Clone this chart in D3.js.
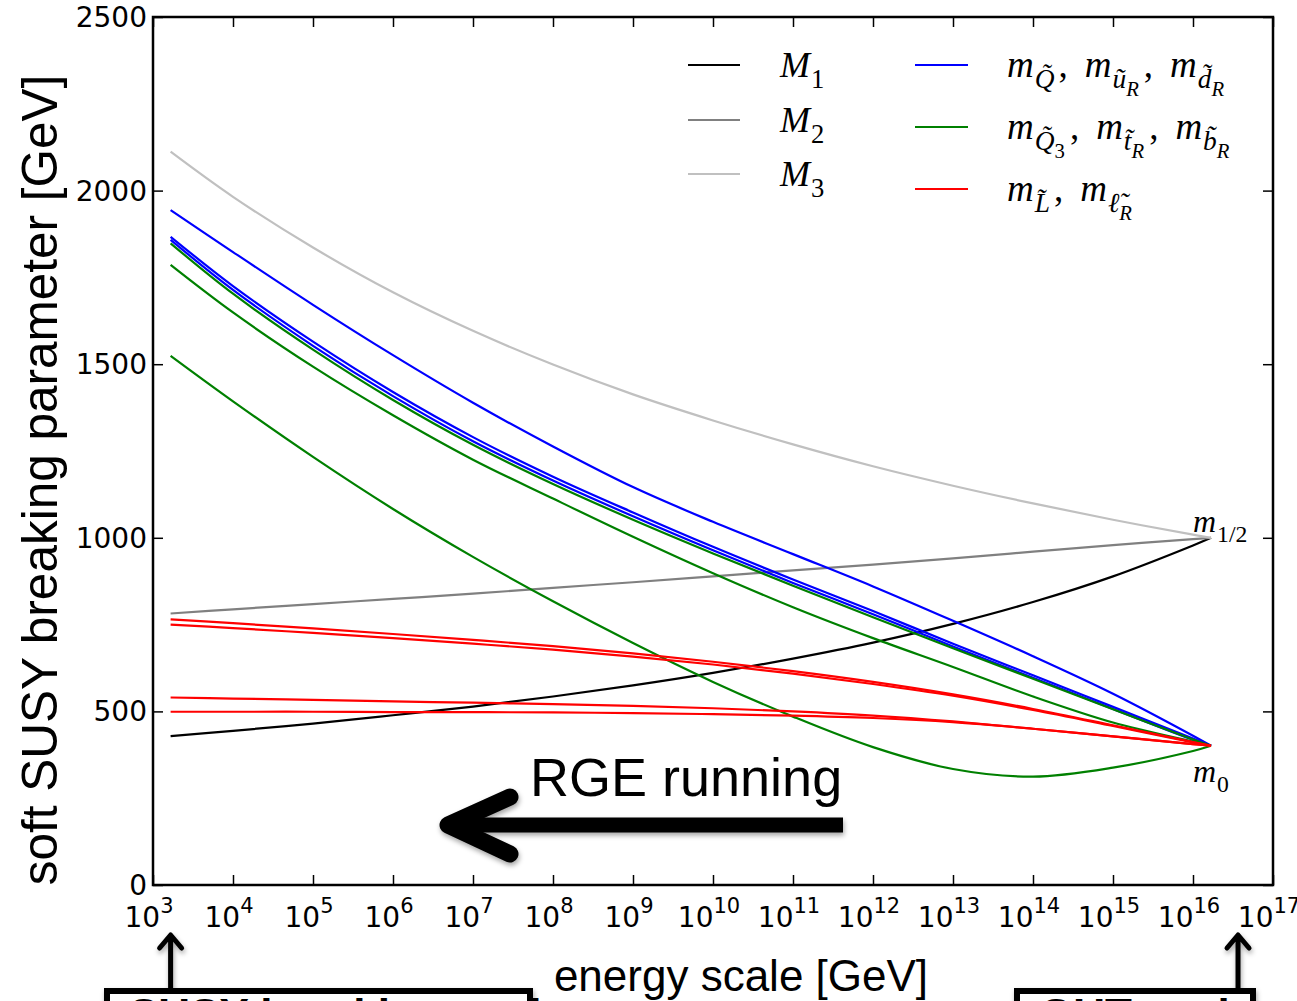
<!DOCTYPE html>
<html lang="en">
<head>
<meta charset="UTF-8" />
<script src="https://d3js.org/d3.v7.min.js"></script>
<title>Soft SUSY breaking parameters - RGE running</title>
<style>
  body { margin: 0; background: #fff; overflow: hidden; }
  svg { display: block; }
</style>
</head>
<body>
<div id="chart"></div>
<script>
  // energy scale of every sampled point (GeV)
  const energy = [1.66e3, 1e4, 1e5, 1e6, 1e7, 1e8, 1e9, 1e10, 1e11, 1e12, 1e13, 1e14, 1e15, 1e16, 1.68e16];

  // gaugino masses
  const M1 = [429, 444, 465, 489, 514, 543, 575, 611, 652, 698, 752, 815, 889, 978, 1000];
  const M2 = [782, 794, 809, 824, 839, 856, 872, 889, 906, 923, 941, 960, 979, 996, 1000];
  const M3 = [2112, 1982, 1836, 1707, 1596, 1499, 1413, 1338, 1269, 1206, 1150, 1099, 1052, 1009, 1000];

  // first / second generation squarks
  const mQ  = [1944, 1823, 1671, 1526, 1389, 1263, 1146, 1046, 953, 860, 761, 659, 551, 430, 401];
  const muR = [1867, 1725, 1565, 1420, 1290, 1176, 1073, 974, 880, 789, 695, 604, 513, 422, 401];
  const mdR = [1858, 1714, 1553, 1408, 1278, 1165, 1062, 964, 870, 780, 687, 597, 507, 418, 401];

  // third generation squarks
  const mbR = [1848, 1703, 1542, 1397, 1268, 1155, 1052, 955, 862, 771, 682, 594, 506, 419, 401];
  const mQ3 = [1786, 1649, 1493, 1353, 1225, 1113, 1003, 898, 800, 711, 628, 543, 468, 413, 401];
  const mtR = [1524, 1393, 1233, 1083, 945, 817, 697, 585, 485, 397, 334, 312, 338, 386, 401];

  // sleptons
  const mL    = [765, 754, 739, 723, 706, 688, 667, 643, 616, 585, 549, 507, 460, 412, 401];
  const mL3   = [750, 740, 726, 711, 695, 678, 658, 635, 609, 579, 545, 504, 458, 411, 401];
  const meR   = [540, 537, 533, 529, 525, 521, 516, 509, 500, 488, 471, 450, 428, 406, 401];
  const mtauR = [499, 499, 499, 498, 498, 497, 495, 492, 488, 481, 469, 450, 428, 406, 401];

  const xTicks = [1e3, 1e4, 1e5, 1e6, 1e7, 1e8, 1e9, 1e10, 1e11, 1e12, 1e13, 1e14, 1e15, 1e16, 1e17];
  const yTicks = [0, 500, 1000, 1500, 2000, 2500];

  const series = [
    { values: M1, color: "#000000" },
    { values: M2, color: "#808080" },
    { values: M3, color: "#c0c0c0" },
    { values: mQ, color: "#0000ff" },
    { values: muR, color: "#0000ff" },
    { values: mdR, color: "#0000ff" },
    { values: mbR, color: "#008000" },
    { values: mQ3, color: "#008000" },
    { values: mtR, color: "#008000" },
    { values: mL, color: "#ff0000" },
    { values: mL3, color: "#ff0000" },
    { values: meR, color: "#ff0000" },
    { values: mtauR, color: "#ff0000" }
  ];

  const width = 1297, height = 1001;
  const margin = { top: 17, right: 24, bottom: 116, left: 153 };
  const sans = "'DejaVu Sans', sans-serif";
  const helv = "'Liberation Sans', Arial, sans-serif";
  const serif = "'Liberation Serif', 'Times New Roman', serif";

  const svg = d3.select("#chart").append("svg")
    .attr("width", width)
    .attr("height", height);

  const defs = svg.append("defs");
  defs.append("filter").attr("id", "shadow")
    .attr("x", "-10%").attr("y", "-30%").attr("width", "130%").attr("height", "170%")
    .append("feDropShadow")
    .attr("dx", 1).attr("dy", 3).attr("stdDeviation", 2.5)
    .attr("flood-color", "#000").attr("flood-opacity", 0.35);

  const x = d3.scaleLog()
    .domain([1e3, 1e17])
    .range([margin.left, width - margin.right]);

  const y = d3.scaleLinear()
    .domain([0, 2500])
    .range([height - margin.bottom, margin.top]);

  const x0 = x.range()[0], x1 = x.range()[1];
  const y0 = y.range()[0], y1 = y.range()[1];

  // curves
  const line = d3.line()
    .x((d, i) => x(energy[i]))
    .y(d => y(d))
    .curve(d3.curveCatmullRom.alpha(0.5));

  svg.append("g").selectAll("path")
    .data(series)
    .enter()
    .append("path")
    .attr("fill", "none")
    .attr("stroke", d => d.color)
    .attr("stroke-width", 2.2)
    .attr("d", d => line(d.values));

  // axes, ticks pointing inwards
  svg.append("g")
    .attr("transform", `translate(0,${y0})`)
    .call(d3.axisBottom(x).tickValues(xTicks).tickSize(-10).tickSizeOuter(0).tickFormat(() => ""));
  svg.append("g")
    .attr("transform", `translate(0,${y1})`)
    .call(d3.axisTop(x).tickValues(xTicks).tickSize(-10).tickSizeOuter(0).tickFormat(() => ""));
  svg.append("g")
    .attr("transform", `translate(${x0},0)`)
    .call(d3.axisLeft(y).tickValues(yTicks).tickSize(-10).tickSizeOuter(0).tickFormat(() => ""));
  svg.append("g")
    .attr("transform", `translate(${x1},0)`)
    .call(d3.axisRight(y).tickValues(yTicks).tickSize(-10).tickSizeOuter(0).tickFormat(() => ""));

  svg.selectAll(".tick line").attr("stroke", "#000").attr("stroke-width", 1.5);
  svg.selectAll(".domain").remove();

  svg.append("rect")
    .attr("x", x0).attr("y", y1)
    .attr("width", x1 - x0).attr("height", y0 - y1)
    .attr("fill", "none")
    .attr("stroke", "#000")
    .attr("stroke-width", 2.5);

  // tick labels
  svg.append("g").selectAll("text")
    .data(yTicks)
    .enter()
    .append("text")
    .attr("x", x0 - 6)
    .attr("y", d => y(d))
    .attr("dy", "0.36em")
    .attr("text-anchor", "end")
    .attr("font-family", sans)
    .attr("font-size", 28)
    .text(d => d);

  const xl = svg.append("g").selectAll("text")
    .data(xTicks)
    .enter()
    .append("text")
    .attr("x", d => x(d) - 4)
    .attr("y", y0 + 42)
    .attr("text-anchor", "middle")
    .attr("font-family", sans)
    .attr("font-size", 28);
  xl.append("tspan").text("10");
  xl.append("tspan")
    .attr("dy", -14)
    .attr("font-size", 21)
    .text(d => Math.round(Math.log10(d)));

  // axis titles
  svg.append("text")
    .attr("transform", `translate(57,${(y0 + 75) / 2}) rotate(-90)`)
    .attr("text-anchor", "middle")
    .attr("font-family", helv)
    .attr("font-size", 49.5)
    .text("soft SUSY breaking parameter [GeV]");

  svg.append("text")
    .attr("x", 741)
    .attr("y", 991)
    .attr("text-anchor", "middle")
    .attr("font-family", helv)
    .attr("font-size", 44)
    .text("energy scale [GeV]");

  // math-style text: parts are [text, level, italic, dx]
  function mathText(g, px, py, size, parts) {
    const offs = [0, 0.3, 0.5];
    const sizes = [1, 0.74, 0.56];
    const t = g.append("text")
      .attr("x", px).attr("y", py)
      .attr("font-family", serif)
      .attr("font-size", size);
    let cur = 0;
    parts.forEach(p => {
      const lvl = p[1];
      const off = offs[lvl] * size;
      t.append("tspan")
        .attr("dy", off - cur)
        .attr("dx", p[3] || 0)
        .attr("font-size", size * sizes[lvl])
        .attr("font-style", p[2] ? "italic" : "normal")
        .text(p[0]);
      cur = off;
    });
    return t;
  }

  // legend
  const legend = svg.append("g");
  const legendLeft = [
    { color: "#000000", ly: 65, sub: "1" },
    { color: "#808080", ly: 120, sub: "2" },
    { color: "#c0c0c0", ly: 174, sub: "3" }
  ];
  legendLeft.forEach(d => {
    legend.append("line")
      .attr("x1", 688).attr("x2", 740)
      .attr("y1", d.ly).attr("y2", d.ly)
      .attr("stroke", d.color).attr("stroke-width", 2.2);
    mathText(legend, 780, d.ly + 12, 36, [["M", 0, true], [d.sub, 1, false, 1]]);
  });

  const tl = "\u0303";
  const legendRight = [
    { color: "#0000ff", ly: 65, parts: [["m", 0, true], ["Q" + tl, 1, true, 1], [",", 0, false, 4], ["m", 0, true, 17], ["u" + tl, 1, true, 1], ["R", 2, true], [",", 0, false, 5], ["m", 0, true, 17], ["d" + tl, 1, true, 1], ["R", 2, true]] },
    { color: "#008000", ly: 127, parts: [["m", 0, true], ["Q" + tl, 1, true, 1], ["3", 2, false], [",", 0, false, 5], ["m", 0, true, 17], ["t" + tl, 1, true, 1], ["R", 2, true], [",", 0, false, 5], ["m", 0, true, 17], ["b" + tl, 1, true, 1], ["R", 2, true]] },
    { color: "#ff0000", ly: 189, parts: [["m", 0, true], ["L" + tl, 1, true, 1], [",", 0, false, 4], ["m", 0, true, 17], ["\u2113" + tl, 1, true, 1], ["R", 2, true]] }
  ];
  legendRight.forEach(d => {
    legend.append("line")
      .attr("x1", 915).attr("x2", 968)
      .attr("y1", d.ly).attr("y2", d.ly)
      .attr("stroke", d.color).attr("stroke-width", 2.2);
    mathText(legend, 1007, d.ly + 12, 37, d.parts);
  });

  // boundary value labels
  mathText(svg, 1193, 532, 32, [["m", 0, true], ["1/2", 1, false, 1]]);
  mathText(svg, 1193, 782, 32, [["m", 0, true], ["0", 1, false, 1]]);

  // RGE running arrow
  const ann = svg.append("g").attr("filter", "url(#shadow)");
  ann.append("line")
    .attr("x1", 843).attr("x2", 455)
    .attr("y1", 825).attr("y2", 825)
    .attr("stroke", "#000").attr("stroke-width", 15);
  ann.append("path")
    .attr("d", "M510,797 L448,825 L510,854")
    .attr("fill", "none")
    .attr("stroke", "#000").attr("stroke-width", 17)
    .attr("stroke-linecap", "round")
    .attr("stroke-linejoin", "round");
  svg.append("text")
    .attr("x", 530).attr("y", 796)
    .attr("font-family", helv)
    .attr("font-size", 54)
    .text("RGE running");

  // scale boxes below the axis
  const boxes = [
    { ax: x(1.66e3), bx: 107, bw: 423, label: "SUSY breaking scale" },
    { ax: x(1.68e16) + 27, bx: 1017, bw: 236, label: "GUT scale" }
  ];
  boxes.forEach(b => {
    const g = svg.append("g").attr("filter", "url(#shadow)");
    g.append("path")
      .attr("d", `M${b.ax},990 L${b.ax},938 M${b.ax - 11},948 L${b.ax},935 L${b.ax + 11},948`)
      .attr("fill", "none")
      .attr("stroke", "#000").attr("stroke-width", 5)
      .attr("stroke-linecap", "round").attr("stroke-linejoin", "round");
    g.append("rect")
      .attr("x", b.bx).attr("y", 991)
      .attr("width", b.bw).attr("height", 60)
      .attr("fill", "#fff")
      .attr("stroke", "#000").attr("stroke-width", 6);
    svg.append("text")
      .attr("x", b.bx + 22).attr("y", 1030)
      .attr("font-family", helv)
      .attr("font-weight", "bold")
      .attr("font-size", 44)
      .text(b.label);
  });
</script>
</body>
</html>
